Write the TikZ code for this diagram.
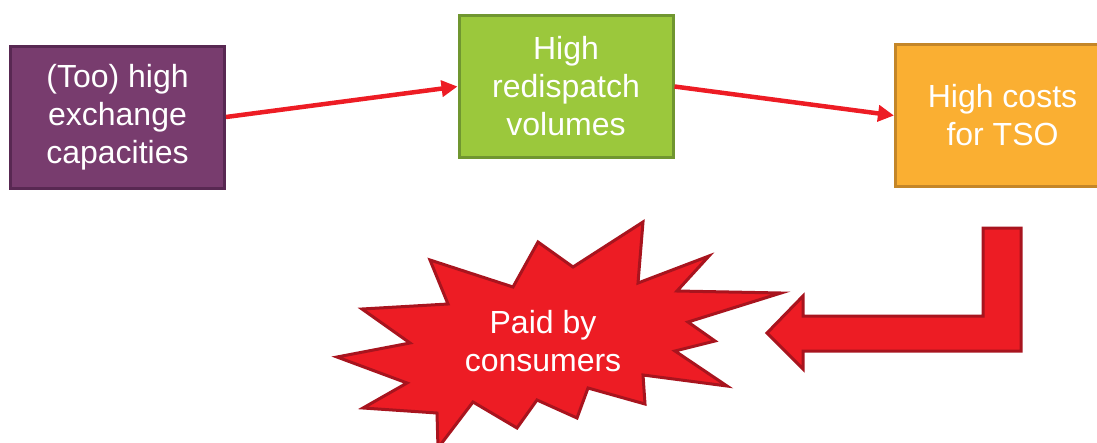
\documentclass[tikz,border=0pt]{standalone}
\usepackage{fontspec}
\setmainfont{Liberation Sans}
\usetikzlibrary{arrows.meta,positioning}

\definecolor{plum}{RGB}{120,60,110}
\definecolor{plumedge}{RGB}{88,40,82}
\definecolor{lime}{RGB}{155,200,60}
\definecolor{limeedge}{RGB}{112,150,48}
\definecolor{amber}{RGB}{250,175,50}
\definecolor{amberedge}{RGB}{196,134,40}
\definecolor{alarm}{RGB}{237,28,36}
\definecolor{alarmedge}{RGB}{168,20,30}

\begin{document}
\begin{tikzpicture}[x=1pt, y=-1pt,
    % --- Styles ---
    box/.style={draw, line width=3pt, minimum width=214pt,
                minimum height=142pt, align=center, text=white,
                font=\fontsize{32}{38}\selectfont},
    causebox/.style={box, fill=plum, draw=plumedge},
    volbox/.style={box, fill=lime, draw=limeedge},
    costbox/.style={box, fill=amber, draw=amberedge},
    link/.style={-{Triangle[length=16pt,width=16pt]}, line width=4.5pt, draw=alarm},
    blast/.style={fill=alarm, draw=alarmedge, line width=3pt, line join=miter},
]
\useasboundingbox (0,0) rectangle (1097,442);

% === Chain of boxes ===
\node[causebox] (cause) at (117.5,117)  {(Too) high\\exchange\\capacities};
\node[volbox]   (vol)   at (566,86.5)   {High\\redispatch\\volumes};
\node[costbox]  (cost)  at (1002.5,115.5) {High costs\\for TSO};

\draw[link] (cause.east) -- (vol.west);
\draw[link] (vol.east) -- (cost.west);

% === Explosion ===
\draw[blast] (337,357) -- (410,343) -- (362,309) -- (448,304) -- (430,260)
  -- (513,287) -- (538,242) -- (573,267) -- (643,222) -- (638,283)
  -- (709,256) -- (677,291) -- (781,293) -- (688,322) -- (715,341)
  -- (675,351) -- (727,386) -- (643,375) -- (645,404) -- (588,388)
  -- (577,418) -- (537,400) -- (517,428) -- (473,402) -- (438,448)
  -- (437,413) -- (363,408) -- (407,383) -- cycle;
\node[text=white, align=center, font=\fontsize{32}{38}\selectfont]
  (paid) at (543,341) {Paid by\\consumers};

% === Bent block arrow back to the explosion ===
\draw[blast] (983,228) -- (1021,228) -- (1021,351) -- (803,351)
  -- (803,369) -- (767,333) -- (803,296) -- (803,316) -- (983,316) -- cycle;

\end{tikzpicture}
\end{document}
